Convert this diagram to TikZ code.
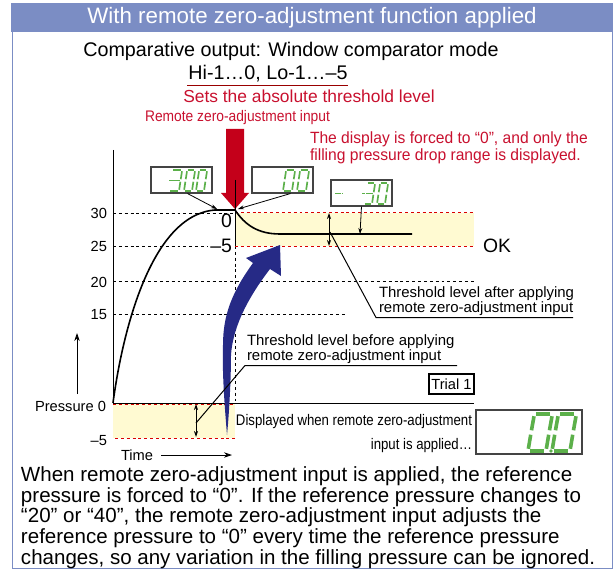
\documentclass[tikz,border=0pt]{standalone}
\usepackage{fontspec}
\setmainfont{Liberation Sans}
\definecolor{hdr}{HTML}{7B8DC4}
\definecolor{redtxt}{HTML}{C8102E}
\definecolor{arrred}{HTML}{C4001A}
\definecolor{arrblue}{HTML}{262A86}
\definecolor{band}{HTML}{FFFAD2}
\definecolor{seg}{HTML}{5CB04A}
\definecolor{dispframe}{HTML}{444444}
\usetikzlibrary{arrows.meta}
\tikzset{
  lbl/.style={inner sep=0pt,outer sep=0pt,font=\fontsize{#1}{#1}\selectfont,text=black},
  lbl/.default=11,
  redl/.style={inner sep=0pt,outer sep=0pt,font=\fontsize{#1}{#1}\selectfont,text=redtxt},
  guide/.style={line width=0.7pt,dash pattern=on 2.2pt off 2.2pt},
  redguide/.style={line width=0.75pt,red!85!black,dash pattern=on 2.2pt off 2.2pt},
  dispbox/.style={draw=dispframe,fill=white,line width=0.8pt,inner sep=0pt},
  leader/.style={line width=0.6pt,-{Stealth[length=4.5pt,width=3pt]}},
  twoway/.style={line width=0.6pt,{Stealth[length=4.5pt,width=3pt]}-{Stealth[length=4.5pt,width=3pt]}},
  plain/.style={line width=0.75pt},
}
% seven-segment glyphs: x of upper-left, y of top, width, height, slant, thickness
\newcommand{\segzero}[6]{%
  \begin{scope}[shift={(#1,#2)},line width=#6,draw=seg,line cap=butt]
   \draw ({0.1*#3},0) -- ++(0.8*#3,0);
   \draw ({#5+0.1*#3},#4) -- ++(0.8*#3,0);
   \draw (0,{0.06*#4}) -- ++({#5*0.42},{0.38*#4});
   \draw (#3,{0.06*#4}) -- ++({#5*0.42},{0.38*#4});
   \draw ({#5*0.55},{0.56*#4}) -- ++({#5*0.39},{0.38*#4});
   \draw ({#3+#5*0.55},{0.56*#4}) -- ++({#5*0.39},{0.38*#4});
  \end{scope}}
\newcommand{\segthree}[6]{%
  \begin{scope}[shift={(#1,#2)},line width=#6,draw=seg,line cap=butt]
   \draw ({0.1*#3},0) -- ++(0.8*#3,0);
   \draw ({#5*0.5+0.1*#3},{0.5*#4}) -- ++(0.8*#3,0);
   \draw ({#5+0.1*#3},#4) -- ++(0.8*#3,0);
   \draw (#3,{0.06*#4}) -- ++({#5*0.42},{0.38*#4});
   \draw ({#3+#5*0.55},{0.56*#4}) -- ++({#5*0.39},{0.38*#4});
  \end{scope}}
\begin{document}
\begin{tikzpicture}[x=0.75pt,y=-0.75pt]
\useasboundingbox (0,0) rectangle (613,570);
% frame
\fill[hdr] (11,3) rectangle (613,32);
\draw[hdr,line width=0.9pt] (12.7,32) -- (12.7,568.7) -- (612.5,568.7) -- (612.5,32);
\node[inner sep=0pt,text=white,font=\fontsize{16.75}{16.75}\selectfont] (title) at (312,18) {With remote zero-adjustment function applied};
% headings
\node[lbl=14.8] (h1) at (291,51) {Comparative output: Window comparator mode};
\node[lbl=14.8] (h2) at (268,74) {Hi-1…0, Lo-1…–5};
\draw[line width=0.9pt,red!60!black] (187,85.5) -- (348,85.5);
\node[redl=13.05] (h3) at (309,96.5) {Sets the absolute threshold level};
\node[redl=11.5] (rz) at (237.5,118) {\scalebox{0.9}[1]{Remote zero-adjustment input}};
\node[redl=12.2,align=left,anchor=west] (msg) at (310,147.5) {\scalebox{0.96}[1]{The display is forced to “0”, and only the}\\[0.5pt]\scalebox{0.96}[1]{filling pressure drop range is displayed.}};
% bands
\fill[band] (235,213) rectangle (474,246);
\fill[band] (113,404) rectangle (235,438);
% guides
\draw[guide] (113,213.5) -- (235,213.5);
\draw[guide] (113,246.5) -- (208,246.5);
\draw[guide] (113,281.5) -- (474,281.5);
\draw[guide] (113,314.5) -- (345,314.5);
\draw[guide] (235.5,246) -- (235.5,403);
\draw[redguide] (235,212.5) -- (474,212.5);
\draw[redguide] (235,246) -- (474,246);
\draw[redguide] (113,404.5) -- (235,404.5);
\draw[redguide] (115,438.5) -- (235,438.5);
% axes
\draw[plain,line width=0.8pt] (113.5,150) -- (113.5,403.5) -- (474,403.5);
% big red arrow
\fill[arrred] (226,129) -- (244,129) -- (244,193) -- (249,193) -- (235,209) -- (221,193) -- (226,193) -- cycle;
% vertical
\draw[plain] (235.5,180) -- (235.5,246);
% blue arrow
\fill[arrblue] (280,245) -- (246,258) -- (253,263)
  .. controls (232,292) and (223,315) .. (223,345)
  .. controls (222,375) and (225,410) .. (227,435)
  .. controls (229,415) and (231,380) .. (231,355)
  .. controls (233,325) and (250,295) .. (270,269)
  -- (281,276) -- cycle;
% curves
\draw[line width=1.2pt] (113,403) .. controls (122,335) and (150,215) .. (215,210) -- (235,210);
\draw[line width=1.2pt] (235,210) .. controls (245,225) and (258,234) .. (280,234) -- (412,234);
% displays
\node[dispbox,minimum width=61pt*0.75,minimum height=26pt*0.75] (d1) at (181.5,180) {};
\node[dispbox,minimum width=61pt*0.75,minimum height=26pt*0.75] (d2) at (282.5,180) {};
\node[dispbox,minimum width=61pt*0.75,minimum height=26pt*0.75] (d3) at (361.5,193) {};
\coordinate (d1e) at (217,209);
\coordinate (d2e) at (238,209);
\coordinate (d3e) at (360,234);
\draw[leader] (d1.south) ++(6,0) -- (d1e);
\draw[leader] (d2.south) ++(8,0) -- (d2e);
\draw[leader] (d3.south) -- (d3e);
% digits display 1
\segthree{172}{170}{10}{21}{-3}{1.25pt}
\draw[seg,line width=1.25pt] (169,180.5) -- (172,180.5);
\segzero{187}{170}{8}{21}{-3}{1.25pt}
\segzero{199}{170}{8}{21}{-3}{1.25pt}
% display 2
\segzero{286}{170}{9}{21}{-3}{1.25pt}
\segzero{300}{170}{9}{21}{-3}{1.25pt}
% display 3
\draw[seg,line width=1.25pt,dash pattern=on 2pt off 0.6pt] (335,193.5) -- (342,193.5);
\segthree{367}{183}{8}{21}{-3}{1.25pt}
\draw[seg,line width=1.25pt] (362,193.5) -- (365,193.5);
\segzero{380}{183}{8}{21}{-3}{1.25pt}
% double arrows and leaders
\coordinate (ua) at (329,213); \coordinate (ub) at (329,246);
\draw[twoway] (ua) -- (ub);
\coordinate (la) at (196,404); \coordinate (lb) at (196,437);
\draw[twoway] (la) -- (lb);
\coordinate (ls) at (330,232); \coordinate (lm) at (376,317.5); \coordinate (le) at (573,317.5);
\draw[plain] (ls) -- (lm) -- (le);
\coordinate (ks) at (196,423); \coordinate (km) at (245,365.5); \coordinate (ke) at (457,365.5);
\draw[plain] (ks) -- (km) -- (ke);
\node[lbl=11.2,anchor=west,align=left] (t1) at (379,301) {Threshold level after applying\\[-0.2pt]remote zero-adjustment input};
\node[lbl=11.2,anchor=west,align=left] (t2) at (247,349.5) {Threshold level before applying\\[0.2pt]remote zero-adjustment input};
% trial
\node[draw,line width=0.8pt,fill=white,minimum width=45pt*0.75,minimum height=20pt*0.75,inner sep=0pt,font=\fontsize{11}{11}\selectfont] (trial) at (451.5,384) {Trial 1};
% big display
\node[draw=dispframe,line width=0.8pt,fill=white,minimum width=106pt*0.75,minimum height=44pt*0.75,inner sep=0pt] (bigd) at (529,432) {};
\segzero{534}{414}{18}{37}{-6}{2.7pt}
\segzero{558}{414}{18}{37}{-6}{2.7pt}
\fill[seg] (551,451) circle (1.8);
\node[lbl=11.5,anchor=east,align=right] (disp) at (472,433.5) {\scalebox{0.86}[1]{Displayed when remote zero-adjustment}\\[7pt]\scalebox{0.86}[1]{input is applied…}};
% axis labels
\node[lbl,anchor=east] (y30) at (107,213) {30};
\node[lbl,anchor=east] (y25) at (107,246) {25};
\node[lbl,anchor=east] (y20) at (107,282) {20};
\node[lbl,anchor=east] (y15) at (107,315) {15};
\node[lbl,anchor=east] (y0) at (106,406) {Pressure 0};
\node[lbl,anchor=east] (y5) at (107,441) {–5};
\node[lbl,anchor=west] (tm) at (121,455) {Time};
\coordinate (tme) at (232,455);
\draw[line width=0.6pt,-{Stealth[length=6pt,width=4pt]}] (161,455) -- (tme);
\coordinate (ps) at (77,394); \coordinate (pe) at (77,333);
\draw[line width=0.6pt,-{Stealth[length=6pt,width=4pt]}] (ps) -- (pe);
\node[lbl=14.6,anchor=east] (z0) at (232,221) {0};
\node[lbl=14.6,anchor=east] (z5) at (232,246) {–5};
\node[lbl=14.5,anchor=west] (ok) at (483,246) {OK};
% bottom paragraph
\node[lbl=15.4,anchor=north west,align=left] (para) at (21,467) {\fontsize{15.4}{15}\selectfont When remote zero-adjustment input is applied, the reference\\
pressure is forced to “0”. If the reference pressure changes to\\
“20” or “40”, the remote zero-adjustment input adjusts the\\
reference pressure to “0” every time the reference pressure\\
changes, so any variation in the filling pressure can be ignored.};
\end{tikzpicture}
\end{document}
